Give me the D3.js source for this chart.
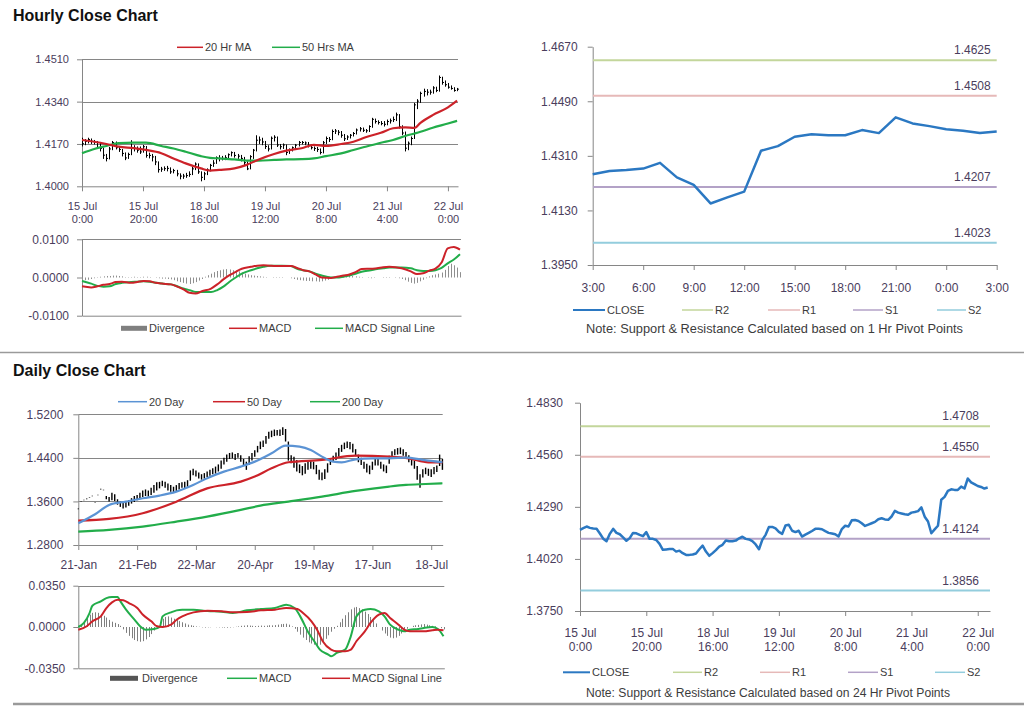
<!DOCTYPE html>
<html><head><meta charset="utf-8">
<script src="https://cdn.jsdelivr.net/npm/d3@7"></script>
<style>body{margin:0;background:#fff;}</style>
</head><body>
<script>
// ---------------- DATA ----------------
// Hourly series: 15 Jul 0:00 ... 22 Jul 3:00 (124 hourly bars, weekend removed)
const hourTickIdx = [0,20,40,60,80,100,120];
const hourTickDay = ["15 Jul","15 Jul","18 Jul","19 Jul","20 Jul","21 Jul","22 Jul"];
const hourTickTime = ["0:00","20:00","16:00","12:00","8:00","4:00","0:00"];
const hourlyClose = [
 1.4171,1.4180,1.4188,1.4181,1.4178,1.4176,1.4152,1.4125,1.4112,1.4150,
 1.4176,1.4155,1.4148,1.4132,1.4114,1.4128,1.4155,1.4153,1.4145,1.4138,
 1.4159,1.4124,1.4124,1.4118,1.4098,1.4067,1.4069,1.4071,1.4072,1.4058,
 1.4063,1.4050,1.4041,1.4041,1.4043,1.4048,1.4070,1.4089,1.4058,1.4036,
 1.4050,1.4066,1.4084,1.4093,1.4115,1.4112,1.4112,1.4115,1.4127,1.4135,
 1.4124,1.4121,1.4112,1.4095,1.4070,1.4119,1.4145,1.4185,1.4186,1.4178,
 1.4160,1.4150,1.4193,1.4197,1.4166,1.4159,1.4166,1.4136,1.4146,1.4155,
 1.4165,1.4176,1.4176,1.4174,1.4164,1.4155,1.4152,1.4148,1.4136,1.4175,
 1.4192,1.4188,1.4220,1.4222,1.4217,1.4205,1.4191,1.4198,1.4205,1.4212,
 1.4226,1.4231,1.4225,1.4223,1.4240,1.4269,1.4260,1.4256,1.4252,1.4249,
 1.4260,1.4263,1.4268,1.4287,1.4239,1.4214,1.4153,1.4173,1.4192,1.4327,
 1.4342,1.4373,1.4381,1.4378,1.4378,1.4395,1.4385,1.4437,1.4417,1.4408,
 1.4398,1.4393,1.4385,1.4390];
const hourlyLow = [
 1.4160,1.4165,1.4172,1.4170,1.4168,1.4150,1.4140,1.4110,1.4100,1.4108,
 1.4145,1.4148,1.4138,1.4120,1.4105,1.4110,1.4125,1.4140,1.4135,1.4130,
 1.4135,1.4115,1.4112,1.4100,1.4085,1.4055,1.4058,1.4062,1.4060,1.4050,
 1.4052,1.4040,1.4028,1.4030,1.4034,1.4038,1.4045,1.4065,1.4050,1.4020,
 1.4025,1.4045,1.4060,1.4078,1.4090,1.4100,1.4104,1.4105,1.4110,1.4120,
 1.4115,1.4110,1.4100,1.4085,1.4065,1.4068,1.4110,1.4140,1.4170,1.4165,
 1.4150,1.4140,1.4148,1.4180,1.4158,1.4148,1.4150,1.4125,1.4130,1.4140,
 1.4150,1.4160,1.4168,1.4165,1.4156,1.4148,1.4142,1.4138,1.4128,1.4132,
 1.4170,1.4178,1.4185,1.4210,1.4205,1.4195,1.4182,1.4186,1.4192,1.4200,
 1.4208,1.4220,1.4218,1.4215,1.4218,1.4235,1.4252,1.4248,1.4245,1.4240,
 1.4245,1.4252,1.4258,1.4262,1.4232,1.4205,1.4140,1.4145,1.4165,1.4190,
 1.4310,1.4335,1.4360,1.4365,1.4368,1.4372,1.4378,1.4380,1.4408,1.4400,
 1.4392,1.4388,1.4380,1.4382];
const hourlyHigh = [
 1.4195,1.4190,1.4195,1.4192,1.4186,1.4182,1.4178,1.4155,1.4130,1.4158,
 1.4182,1.4180,1.4162,1.4150,1.4136,1.4135,1.4185,1.4165,1.4160,1.4160,
 1.4166,1.4162,1.4135,1.4130,1.4122,1.4100,1.4078,1.4080,1.4082,1.4076,
 1.4070,1.4066,1.4052,1.4050,1.4054,1.4060,1.4078,1.4096,1.4092,1.4060,
 1.4058,1.4072,1.4090,1.4105,1.4120,1.4125,1.4122,1.4125,1.4132,1.4140,
 1.4138,1.4130,1.4126,1.4118,1.4100,1.4125,1.4150,1.4205,1.4200,1.4195,
 1.4182,1.4165,1.4200,1.4205,1.4200,1.4170,1.4172,1.4168,1.4152,1.4160,
 1.4170,1.4182,1.4182,1.4180,1.4178,1.4168,1.4160,1.4158,1.4152,1.4182,
 1.4200,1.4198,1.4228,1.4230,1.4226,1.4222,1.4210,1.4205,1.4210,1.4218,
 1.4232,1.4238,1.4236,1.4230,1.4245,1.4275,1.4272,1.4265,1.4262,1.4262,
 1.4268,1.4272,1.4280,1.4296,1.4290,1.4245,1.4220,1.4180,1.4200,1.4335,
 1.4350,1.4380,1.4392,1.4390,1.4388,1.4402,1.4400,1.4445,1.4440,1.4425,
 1.4415,1.4405,1.4398,1.4395];
const hMaIdx = [0,4,8,12,17,21,26,30,34,39,42,45,50,54,58,63,67,72,76,80,85,89,93,98,102,106,109,111,115,120,123];
const hMa20 = [1.4186,1.4179,1.4170,1.4159,1.4153,1.4146,1.4133,1.4112,1.4092,1.4072,1.4063,1.4066,1.4072,1.4086,1.4108,1.4130,1.4143,1.4153,1.4166,1.4162,1.4170,1.4179,1.4197,1.4215,1.4233,1.4237,1.4235,1.4255,1.4286,1.4317,1.4344];
const hMa50 = [1.4133,1.4150,1.4162,1.4173,1.4175,1.4175,1.4162,1.4152,1.4139,1.4121,1.4114,1.4112,1.4108,1.4103,1.4103,1.4106,1.4108,1.4109,1.4112,1.4121,1.4132,1.4146,1.4159,1.4175,1.4186,1.4202,1.4212,1.4219,1.4235,1.4252,1.4263];
const hPriceTicks = [1.4000,1.4170,1.4340,1.4510];
const hMacdIdx = [0,3,5,7,9,11,13,16,18,20,22,24,26,29,31,33,35,37,39,42,44,46,48,50,52,55,57,59,61,63,65,68,70,72,74,76,78,81,83,85,87,89,91,94,96,98,100,102,104,107,109,111,113,115,117,119,121,123];
const hMacd = [-0.0023,-0.0026,-0.0023,-0.0019,-0.0017,-0.0012,-0.0011,-0.0014,-0.0012,-0.0009,
 -0.0010,-0.0014,-0.0016,-0.0018,-0.0024,-0.0031,-0.0040,-0.0042,-0.0036,-0.0029,
 -0.0018,-0.0005,0.0006,0.0015,0.0023,0.0028,0.0031,0.0032,0.0031,0.0030,
 0.0030,0.0030,0.0025,0.0019,0.0016,0.0008,0.0000,-0.0001,0.0002,0.0005,
 0.0008,0.0014,0.0022,0.0023,0.0024,0.0027,0.0028,0.0027,0.0024,0.0016,
 0.0009,0.0011,0.0018,0.0023,0.0039,0.0076,0.0080,0.0073];
const hSignal = [-0.0009,-0.0016,-0.0022,-0.0024,-0.0023,-0.0017,-0.0014,-0.0012,-0.0011,-0.0010,
 -0.0011,-0.0014,-0.0016,-0.0018,-0.0023,-0.0029,-0.0033,-0.0038,-0.0038,-0.0038,
 -0.0033,-0.0024,-0.0011,0.0000,0.0010,0.0019,0.0024,0.0028,0.0031,0.0031,
 0.0031,0.0030,0.0023,0.0019,0.0016,0.0010,0.0005,0.0000,0.0000,0.0002,
 0.0005,0.0010,0.0015,0.0019,0.0022,0.0024,0.0026,0.0026,0.0026,0.0024,
 0.0019,0.0017,0.0017,0.0019,0.0025,0.0037,0.0047,0.0061];
const hDiv = [
 -0.0008,-0.0007,-0.0006,-0.0004,-0.0002,-0.0001,0.0002,0.0003,0.0004,0.0004,
 0.0005,0.0005,0.0004,0.0003,0.0001,-0.0001,0.0001,0.0002,0.0001,0.0001,
 0.0002,0.0002,0.0001,0.0000,-0.0001,-0.0002,-0.0003,-0.0003,-0.0004,-0.0005,
 -0.0007,-0.0010,-0.0012,-0.0014,-0.0016,-0.0017,-0.0015,-0.0012,-0.0008,-0.0004,
 0.0002,0.0006,0.0010,0.0014,0.0017,0.0019,0.0021,0.0022,0.0021,0.0019,
 0.0018,0.0016,0.0013,0.0010,0.0008,0.0006,0.0005,0.0004,0.0003,0.0002,
 0.0001,0.0000,-0.0001,-0.0001,-0.0001,-0.0001,0.0000,0.0000,-0.0002,-0.0004,
 -0.0006,-0.0007,-0.0008,-0.0009,-0.0009,-0.0010,-0.0010,-0.0011,-0.0010,-0.0008,
 -0.0006,-0.0003,0.0002,0.0004,0.0005,0.0006,0.0006,0.0005,0.0004,0.0003,
 0.0002,0.0001,0.0000,-0.0001,-0.0002,-0.0001,0.0000,0.0000,0.0001,0.0001,
 0.0001,0.0000,-0.0001,-0.0002,-0.0004,-0.0007,-0.0011,-0.0014,-0.0016,-0.0014,
 -0.0010,-0.0006,-0.0002,0.0003,0.0006,0.0008,0.0010,0.0013,0.0020,0.0030,
 0.0036,0.0032,0.0026,0.0014];
const macdTicksH = [-0.0100,0.0000,0.0100];

// Last 25 hours (21 Jul 3:00 - 22 Jul 3:00) pivot chart
const lastDayStart = 99;
const hrLabels = ["3:00","6:00","9:00","12:00","15:00","18:00","21:00","0:00","3:00"];
const hrTicks = [1.3950,1.4130,1.4310,1.4490,1.4670];
const pivotNames = ["R2","R1","S1","S2"];
const pivot1h = [1.4625,1.4508,1.4207,1.4023];
const pivot24h = [1.4708,1.4550,1.4124,1.3856];
const brTicks = [1.3750,1.4020,1.4290,1.4560,1.4830];

// Daily series: 21-Jan ... 22-Jul (131 trading days)
const dayTickIdx = [0,21,42,63,84,105,126];
const dayTickLabels = ["21-Jan","21-Feb","22-Mar","20-Apr","19-May","17-Jun","18-Jul"];
const dailyLow = [
 1.3455,1.3590,1.3620,1.3640,1.3665,1.3695,1.3580,1.3715,1.3820,1.3805,
 1.3640,1.3600,1.3620,1.3610,1.3540,1.3500,1.3470,1.3490,1.3520,1.3560,
 1.3590,1.3620,1.3650,1.3680,1.3700,1.3690,1.3720,1.3760,1.3800,1.3840,
 1.3880,1.3850,1.3800,1.3780,1.3770,1.3790,1.3820,1.3850,1.3840,1.3870,
 1.3980,1.4080,1.4060,1.4020,1.4000,1.4020,1.4050,1.4070,1.4100,1.4110,
 1.4150,1.4200,1.4280,1.4330,1.4380,1.4390,1.4360,1.4400,1.4330,1.4250,
 1.4180,1.4270,1.4350,1.4420,1.4500,1.4560,1.4600,1.4660,1.4750,1.4780,
 1.4800,1.4810,1.4800,1.4820,1.4700,1.4350,1.4300,1.4220,1.4150,1.4120,
 1.4080,1.4110,1.4180,1.4200,1.4190,1.4100,1.4000,1.3990,1.4010,1.4130,
 1.4270,1.4330,1.4360,1.4420,1.4510,1.4560,1.4580,1.4560,1.4500,1.4430,
 1.4320,1.4270,1.4200,1.4130,1.4100,1.4180,1.4260,1.4260,1.4200,1.4150,
 1.4120,1.4290,1.4400,1.4450,1.4460,1.4470,1.4440,1.4380,1.4320,1.4260,
 1.4200,1.4000,1.3850,1.4040,1.4100,1.4070,1.4050,1.4100,1.4140,1.4250,1.4180];
const dailyHigh = [
 1.3470,1.3600,1.3630,1.3652,1.3675,1.3705,1.3590,1.3725,1.3832,1.3815,
 1.3700,1.3680,1.3760,1.3730,1.3640,1.3600,1.3580,1.3600,1.3620,1.3660,
 1.3700,1.3720,1.3760,1.3800,1.3820,1.3800,1.3850,1.3900,1.3950,1.3960,
 1.3980,1.3960,1.3930,1.3900,1.3870,1.3900,1.3940,1.3950,1.3960,1.3990,
 1.4170,1.4200,1.4170,1.4130,1.4100,1.4120,1.4150,1.4180,1.4210,1.4240,
 1.4280,1.4350,1.4400,1.4460,1.4490,1.4500,1.4470,1.4490,1.4450,1.4380,
 1.4330,1.4430,1.4490,1.4540,1.4620,1.4700,1.4720,1.4800,1.4880,1.4900,
 1.4920,1.4910,1.4920,1.4960,1.4930,1.4700,1.4450,1.4420,1.4360,1.4280,
 1.4250,1.4300,1.4330,1.4360,1.4330,1.4270,1.4180,1.4130,1.4190,1.4300,
 1.4380,1.4440,1.4500,1.4580,1.4640,1.4680,1.4700,1.4690,1.4660,1.4560,
 1.4460,1.4400,1.4330,1.4290,1.4260,1.4330,1.4390,1.4380,1.4330,1.4280,
 1.4260,1.4440,1.4520,1.4560,1.4580,1.4590,1.4560,1.4510,1.4450,1.4400,
 1.4350,1.4250,1.4100,1.4190,1.4220,1.4200,1.4190,1.4230,1.4260,1.4460,1.4380];
const dMa20Idx = [0,6,11,17,23,29,35,41,46,52,58,63,69,74,79,83,87,91,94,99,105,111,117,123,130];
const dMa20 = [1.3199,1.3365,1.3536,1.3597,1.3658,1.3707,1.3780,1.3903,1.4026,1.4147,1.4239,1.4331,1.4484,1.4625,1.4607,1.4545,1.4423,1.4331,1.4319,1.4374,1.4392,1.4392,1.4405,1.4362,1.4319];
const dMa50Idx = [0,11,23,35,46,58,63,69,75,87,99,111,118,125,130];
const dMa50 = [1.3248,1.3279,1.3383,1.3596,1.3840,1.3963,1.4056,1.4209,1.4319,1.4362,1.4441,1.4423,1.4392,1.4319,1.4319];
const dMa200Idx = [0,11,23,35,46,58,65,75,87,99,111,117,124,130];
const dMa200 = [1.3046,1.3077,1.3138,1.3229,1.3321,1.3444,1.3523,1.3597,1.3689,1.3793,1.3873,1.3903,1.3920,1.3934];
const dPriceTicks = [1.2800,1.3600,1.4400,1.5200];
const dMacdIdx = [0,2,4,5,8,10,12,14,15,17,20,22,24,27,29,30,33,35,37,41,46,51,55,60,65,70,74,77,79,82,84,86,89,90,92,95,97,99,102,104,107,109,111,114,116,118,121,123,126,128,130];
const dMacd = [0.0000,0.0034,0.0118,0.0180,0.0217,0.0245,0.0254,0.0254,0.0217,0.0147,
 0.0062,0.0006,-0.0023,-0.0017,0.0000,0.0090,0.0124,0.0141,0.0147,0.0147,
 0.0135,0.0130,0.0118,0.0141,0.0152,0.0161,0.0189,0.0161,0.0090,-0.0051,
 -0.0121,-0.0192,-0.0234,-0.0248,-0.0220,-0.0192,-0.0079,0.0090,0.0147,0.0152,
 0.0133,0.0090,0.0020,-0.0023,-0.0037,-0.0023,-0.0017,-0.0008,0.0000,-0.0017,-0.0079];
const dSigIdx = [0,3,5,8,10,12,14,16,18,21,23,26,28,30,33,35,37,41,46,51,55,60,65,70,74,78,80,83,85,87,90,92,95,97,99,102,104,107,109,111,114,116,118,121,123,126,128,130];
const dSig = [-0.0023,0.0006,0.0048,0.0090,0.0161,0.0209,0.0231,0.0226,0.0203,0.0161,
 0.0104,0.0048,0.0006,0.0000,0.0020,0.0062,0.0090,0.0124,0.0138,0.0133,
 0.0124,0.0127,0.0141,0.0147,0.0161,0.0152,0.0118,0.0048,-0.0023,-0.0121,
 -0.0192,-0.0206,-0.0206,-0.0192,-0.0121,-0.0037,0.0034,0.0104,0.0118,0.0076,
 0.0020,-0.0023,-0.0037,-0.0037,-0.0037,-0.0028,-0.0023,-0.0028];
const dDiv = [
 0.0010,0.0025,0.0050,0.0080,0.0105,0.0120,0.0125,0.0120,0.0110,0.0095,
 0.0080,0.0060,0.0045,0.0035,0.0025,0.0010,-0.0020,-0.0050,-0.0075,-0.0095,
 -0.0110,-0.0120,-0.0125,-0.0120,-0.0105,-0.0085,-0.0060,-0.0030,0.0010,0.0040,
 0.0070,0.0085,0.0090,0.0080,0.0070,0.0060,0.0050,0.0040,0.0030,0.0020,
 0.0015,0.0010,0.0005,0.0002,-0.0003,-0.0005,-0.0003,-0.0002,0.0000,-0.0002,
 -0.0003,-0.0004,-0.0005,-0.0006,-0.0004,-0.0002,0.0002,0.0005,0.0010,0.0012,
 0.0015,0.0012,0.0010,0.0008,0.0010,0.0012,0.0010,0.0012,0.0015,0.0014,
 0.0016,0.0020,0.0024,0.0026,0.0028,0.0020,0.0005,-0.0015,-0.0040,-0.0065,
 -0.0090,-0.0110,-0.0130,-0.0140,-0.0150,-0.0160,-0.0150,-0.0130,-0.0100,-0.0070,
 -0.0040,-0.0015,0.0010,0.0040,0.0070,0.0100,0.0125,0.0150,0.0165,0.0170,
 0.0160,0.0150,0.0130,0.0110,0.0085,0.0060,0.0030,0.0000,-0.0030,-0.0055,
 -0.0075,-0.0090,-0.0095,-0.0090,-0.0075,-0.0055,-0.0035,-0.0015,0.0000,0.0010,
 0.0015,0.0018,0.0022,0.0025,0.0020,0.0015,0.0010,0.0005,0.0000,-0.0010,-0.0020];
const macdTicksD = [-0.0350,0.0000,0.0350];

// ---------------- DRAWING ----------------
const FONT = "'Liberation Sans', Arial, Helvetica, sans-serif";
const LABEL = "#4a3d5c", AXIS = "#868686", TEXT = "#3c3c3c";
const RED = "#cc2229", GREEN = "#22ad4a", BLUE = "#2b78c2", LBLUE = "#5b93d4", GREY = "#7f7f7f";
const pivotColors = ["#c3d69b","#e6b9b8","#b3a2c7","#93cddd"];

const svg = d3.select("body").append("svg").attr("width",1024).attr("height",706).attr("font-family",FONT);
svg.append("rect").attr("width",1024).attr("height",706).attr("fill","#fff");
const fmt4 = v => (v < 0 ? "-" : "") + Math.abs(v).toFixed(4);

function styleAxis(g, fs) {
  g.attr("font-family", FONT).attr("font-size", fs);
  g.select(".domain").attr("stroke", AXIS);
  g.selectAll(".tick line").attr("stroke", AXIS);
  g.selectAll(".tick text").attr("fill", LABEL);
}
function leftAxis(scale, x, ticks, fs, pad) {
  const g = svg.append("g").attr("transform", `translate(${x},0)`)
    .call(d3.axisLeft(scale).tickValues(ticks).tickFormat(fmt4).tickSize(5).tickSizeOuter(0).tickPadding(pad));
  styleAxis(g, fs);
  return g;
}
function bottomAxis(scale, y, ticks, fs, tickLen, lines, offs) {
  const g = svg.append("g").attr("transform", `translate(0,${y})`)
    .call(d3.axisBottom(scale).tickValues(ticks).tickSize(tickLen).tickSizeOuter(0).tickFormat(() => ""));
  styleAxis(g, fs);
  g.selectAll(".tick text").each(function(d, k) {
    const t = d3.select(this).attr("y", 0).attr("dy", null);
    lines.forEach((arr, j) => t.append("tspan").attr("x", 0).attr("y", offs[j]).attr("dy", "0.35em").text(arr[k]));
  });
  return g;
}
function grid(scale, x1, x2, values) {
  svg.append("g").selectAll("line").data(values).join("line")
    .attr("x1", x1).attr("x2", x2)
    .attr("y1", d => Math.round(scale(d)) + 0.5).attr("y2", d => Math.round(scale(d)) + 0.5)
    .attr("stroke", AXIS).attr("stroke-width", 1);
}
function legendItem(x1, x2, y, color, w, label, fs) {
  svg.append("line").attr("x1", x1).attr("x2", x2).attr("y1", y).attr("y2", y).attr("stroke", color).attr("stroke-width", w);
  svg.append("text").attr("x", x2 + 2).attr("y", y).attr("dy", "0.35em").attr("font-size", fs).attr("fill", TEXT).text(label);
}
function path(idx, vals, xs, ys, color, w, curve) {
  const line = d3.line().x(d => xs(d[0])).y(d => ys(d[1]));
  if (curve) line.curve(d3.curveMonotoneX);
  svg.append("path").datum(idx.map((i, k) => [i, vals[k]])).attr("d", line)
    .attr("fill", "none").attr("stroke", color).attr("stroke-width", w).attr("stroke-linejoin", "round");
}

// Titles & separators
svg.append("text").attr("x", 13).attr("y", 21).attr("font-size", 16).attr("font-weight", "bold").attr("fill", "#111").text("Hourly Close Chart");
svg.append("text").attr("x", 13).attr("y", 376).attr("font-size", 16).attr("font-weight", "bold").attr("fill", "#111").text("Daily Close Chart");
svg.append("line").attr("x1", 0).attr("x2", 1024).attr("y1", 352.5).attr("y2", 352.5).attr("stroke", "#9a9a9a").attr("stroke-width", 1.5);
svg.append("line").attr("x1", 13).attr("x2", 1024).attr("y1", 704).attr("y2", 704).attr("stroke", "#9a9a9a").attr("stroke-width", 2.5);

// ===== Hourly price (top-left) =====
const xH = d3.scaleLinear().domain([0, 123.3]).range([82, 458]);
const yHP = d3.scaleLinear().domain([1.4000, 1.4510]).range([186.3, 59.3]);
grid(yHP, 82, 458, hPriceTicks.slice(1));
leftAxis(yHP, 82, hPriceTicks, 11, 8);
bottomAxis(xH, 186.3, hourTickIdx, 11, 5, [hourTickDay, hourTickTime], [19.4, 33]);
const hb = svg.append("g").attr("stroke", "#000");
hb.selectAll("line.hl").data(hourlyClose).join("line").attr("class", "hl")
  .attr("x1", (d, i) => Math.round(xH(i)) + 0.5).attr("x2", (d, i) => Math.round(xH(i)) + 0.5)
  .attr("y1", (d, i) => yHP(hourlyHigh[i])).attr("y2", (d, i) => yHP(hourlyLow[i]));
hb.selectAll("line.cl").data(hourlyClose).join("line").attr("class", "cl")
  .attr("x1", (d, i) => Math.round(xH(i)) + 0.5).attr("x2", (d, i) => Math.round(xH(i)) + 2)
  .attr("y1", d => yHP(d)).attr("y2", d => yHP(d));
path(hMaIdx, hMa50, xH, yHP, GREEN, 2.2, true);
path(hMaIdx, hMa20, xH, yHP, RED, 2.2, true);
legendItem(177, 203, 47.3, RED, 1.5, "20 Hr MA", 11);
legendItem(272, 300, 47.3, GREEN, 1.5, "50 Hrs MA", 11);

// ===== Hourly MACD =====
const xHM = d3.scaleLinear().domain([0, 123]).range([82, 460]);
const yHM = d3.scaleLinear().domain([-0.01, 0.01]).range([315.7, 239.3]);
grid(yHM, 82, 461, [0.01]);
leftAxis(yHM, 82, macdTicksH, 12, 8);
svg.append("g").attr("transform", "translate(0,315.7)").call(d3.axisBottom(d3.scaleLinear().range([82, 461])).tickValues([]).tickSizeOuter(0)).select(".domain").attr("stroke", AXIS);
svg.append("g").selectAll("line").data(hDiv).join("line")
  .attr("x1", (d, i) => Math.round(xHM(i)) + 0.5).attr("x2", (d, i) => Math.round(xHM(i)) + 0.5)
  .attr("y1", yHM(0)).attr("y2", d => yHM(d)).attr("stroke", "#8f8f8f").attr("stroke-width", 1);
path(hMacdIdx, hSignal, xHM, yHM, GREEN, 2, true);
path(hMacdIdx, hMacd, xHM, yHM, RED, 2, true);
svg.append("rect").attr("x", 121).attr("y", 325.8).attr("width", 26).attr("height", 5).attr("fill", GREY);
svg.append("text").attr("x", 149).attr("y", 328.3).attr("dy", "0.35em").attr("font-size", 11).attr("fill", TEXT).text("Divergence");
legendItem(229, 257, 328.3, RED, 1.5, "MACD", 11);
legendItem(315, 343, 328.3, GREEN, 1.5, "MACD  Signal Line", 11);

// ===== Pivot chart (top-right, 1 Hr) =====
const lastDay = hourlyClose.slice(lastDayStart);
const xTR = d3.scaleLinear().domain([0, 24]).range([592.7, 996.7]);
const yTR = d3.scaleLinear().domain([1.3950, 1.4670]).range([265, 46.7]);
leftAxis(yTR, 592.7, hrTicks, 12, 10);
bottomAxis(xTR, 265, [0,3,6,9,12,15,18,21,24], 12, 5, [hrLabels], [22.3]);
pivot1h.forEach((v, k) => {
  svg.append("line").attr("x1", 593).attr("x2", 996.7).attr("y1", yTR(v)).attr("y2", yTR(v)).attr("stroke", pivotColors[k]).attr("stroke-width", 2);
  svg.append("text").attr("x", 990.7).attr("y", yTR(v) - 6).attr("text-anchor", "end").attr("font-size", 12).attr("fill", LABEL).text(v.toFixed(4));
});
path(d3.range(lastDay.length), lastDay, xTR, yTR, BLUE, 2.5, false);
legendItem(573, 605, 310, BLUE, 2, "CLOSE", 11);
legendItem(682, 713, 310, pivotColors[0], 1.5, "R2", 11);
legendItem(768, 800, 310, pivotColors[1], 1.5, "R1", 11);
legendItem(853, 883, 310, pivotColors[2], 1.5, "S1", 11);
legendItem(937, 966, 310, pivotColors[3], 1.5, "S2", 11);
svg.append("text").attr("x", 586).attr("y", 329).attr("dy", "0.35em").attr("font-size", 12).attr("fill", TEXT)
  .attr("textLength", 377).attr("lengthAdjust", "spacingAndGlyphs")
  .text("Note: Support & Resistance Calculated based on 1 Hr Pivot Points");

// ===== Daily price (bottom-left) =====
const xD = d3.scaleLinear().domain([0, 130.1]).range([78.3, 442.7]);
const yDP = d3.scaleLinear().domain([1.28, 1.52]).range([545, 414.3]);
grid(yDP, 78.3, 442.7, dPriceTicks.slice(1));
leftAxis(yDP, 78.3, dPriceTicks, 12, 10);
bottomAxis(xD, 545, dayTickIdx, 12, 5, [dayTickLabels], [20]);
const db = svg.append("g").attr("stroke", "#000").attr("stroke-width", 1.4);
db.selectAll("line").data(dailyLow).join("line")
  .attr("x1", (d, i) => xD(i)).attr("x2", (d, i) => xD(i))
  .attr("y1", (d, i) => yDP(dailyHigh[i])).attr("y2", d => yDP(d));
path(dMa200Idx, dMa200, xD, yDP, GREEN, 2.2, true);
path(dMa50Idx, dMa50, xD, yDP, RED, 2.2, true);
path(dMa20Idx, dMa20, xD, yDP, LBLUE, 2.2, true);
legendItem(118, 147, 401.7, LBLUE, 1.5, "20 Day", 11);
legendItem(213, 245, 401.7, RED, 1.5, "50 Day", 11);
legendItem(310, 340, 401.7, GREEN, 1.5, "200 Day", 11);

// ===== Daily MACD =====
const xDM = d3.scaleLinear().domain([0, 130]).range([78.3, 443.5]);
const yDM = d3.scaleLinear().domain([-0.035, 0.035]).range([668.3, 585.7]);
grid(yDM, 78.3, 444.3, [0.035]);
leftAxis(yDM, 78.3, macdTicksD, 12, 8);
svg.append("g").attr("transform", "translate(0,668.3)").call(d3.axisBottom(d3.scaleLinear().range([78.3, 444.3])).tickValues([]).tickSizeOuter(0)).select(".domain").attr("stroke", AXIS);
svg.append("g").selectAll("line").data(dDiv).join("line")
  .attr("x1", (d, i) => Math.round(xDM(i)) + 0.5).attr("x2", (d, i) => Math.round(xDM(i)) + 0.5)
  .attr("y1", yDM(0)).attr("y2", d => yDM(d)).attr("stroke", GREY).attr("stroke-width", 1);
path(dMacdIdx, dMacd, xDM, yDM, GREEN, 2, true);
path(dSigIdx, dSig, xDM, yDM, RED, 2, true);
svg.append("rect").attr("x", 110).attr("y", 675.8).attr("width", 28).attr("height", 5).attr("fill", "#555");
svg.append("text").attr("x", 142).attr("y", 678.3).attr("dy", "0.35em").attr("font-size", 11).attr("fill", TEXT).text("Divergence");
legendItem(227, 257, 678.3, GREEN, 1.5, "MACD", 11);
legendItem(322, 350, 678.3, RED, 1.5, "MACD Signal Line", 11);

// ===== Pivot chart (bottom-right, 24 Hr) =====
const xBR = d3.scaleLinear().domain([0, 123.7]).range([580, 990]);
const yBR = d3.scaleLinear().domain([1.3750, 1.4830]).range([611, 402.7]);
leftAxis(yBR, 580, brTicks, 12, 12);
bottomAxis(xBR, 611, hourTickIdx, 12, 5, [hourTickDay, hourTickTime], [21.3, 35.7]);
pivot24h.forEach((v, k) => {
  svg.append("line").attr("x1", 580.5).attr("x2", 990).attr("y1", yBR(v)).attr("y2", yBR(v)).attr("stroke", pivotColors[k]).attr("stroke-width", 2);
  svg.append("text").attr("x", 979).attr("y", yBR(v) - 6).attr("text-anchor", "end").attr("font-size", 12).attr("fill", LABEL).text(v.toFixed(4));
});
path(d3.range(hourlyClose.length), hourlyClose, xBR, yBR, BLUE, 2.5, false);
legendItem(563, 590, 672.3, BLUE, 2, "CLOSE", 11);
legendItem(673, 702, 672.3, pivotColors[0], 1.5, "R2", 11);
legendItem(760, 790, 672.3, pivotColors[1], 1.5, "R1", 11);
legendItem(848, 878, 672.3, pivotColors[2], 1.5, "S1", 11);
legendItem(935, 965, 672.3, pivotColors[3], 1.5, "S2", 11);
svg.append("text").attr("x", 586).attr("y", 692.3).attr("dy", "0.35em").attr("font-size", 12).attr("fill", TEXT)
  .attr("textLength", 364).attr("lengthAdjust", "spacingAndGlyphs")
  .text("Note: Support & Resistance Calculated based on 24 Hr Pivot Points");
</script>
</body></html>
